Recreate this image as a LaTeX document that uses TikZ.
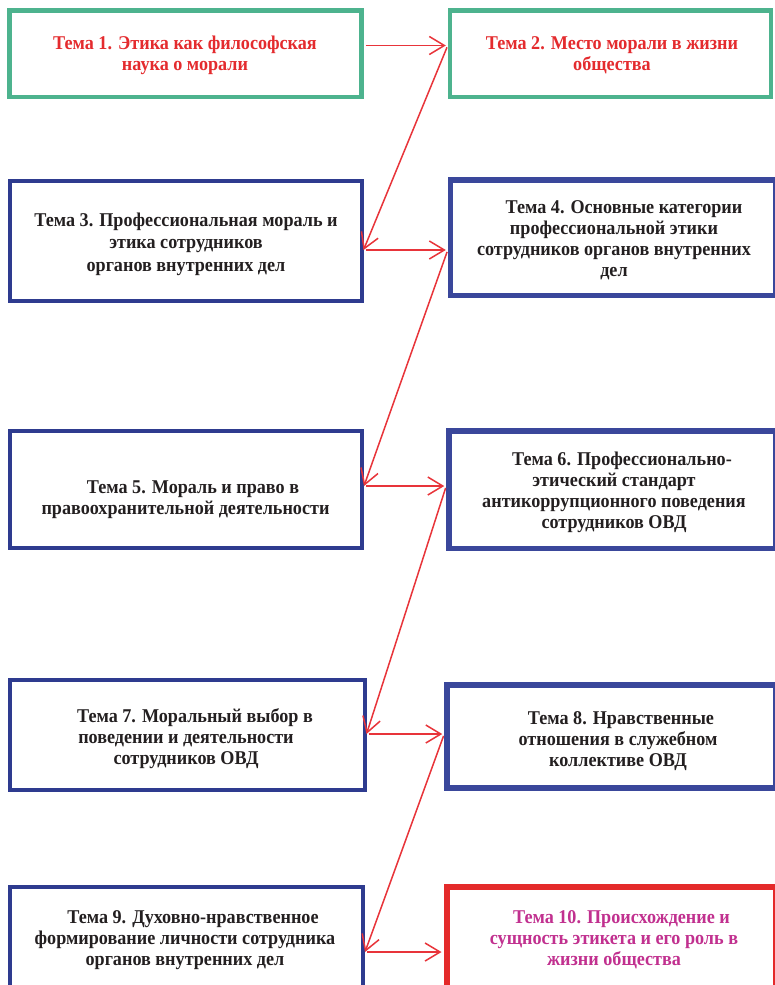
\documentclass[tikz,border=0pt]{standalone}
\usepackage{fontspec}
\setmainfont[FakeStretch=0.93]{Liberation Serif}
\usetikzlibrary{arrows.meta}
\definecolor{tgreen}{HTML}{4DB38E}
\definecolor{tblue}{HTML}{2E3B8F}
\definecolor{tbluel}{HTML}{3A479B}
\definecolor{tred}{HTML}{E42A2A}
\definecolor{arrred}{HTML}{E8343A}
\definecolor{ttred}{HTML}{E42B2E}
\definecolor{tmag}{HTML}{C1308F}
\definecolor{ttext}{HTML}{231F20}
\begin{document}
\begin{tikzpicture}[x=1pt,y=-1pt,
 box/.style={draw, rectangle, inner sep=0pt},
 greenbox/.style={box, draw=tgreen, line width=4.5pt},
 bluebox/.style={box, draw=tblue, line width=4pt},
 blueboxr/.style={box, draw=tbluel, line width=5.5pt},
 redbox/.style={box, draw=tred, line width=6pt},
 txt/.style={align=center, font=\fontsize{19.5}{21}\selectfont\bfseries, text=ttext, inner sep=0pt, anchor=base},
 arr/.style={draw=arrred, line width=1.5pt, -{Straight Barb[length=15pt,width=18pt]}},
]
\useasboundingbox[fill=white] (0,0) rectangle (775,985);
% boxes
\node[greenbox, minimum width=352pt, minimum height=86.5pt] (b1) at (185.5,53.75) {};
\node[greenbox, minimum width=321pt, minimum height=86.5pt] (b2) at (610.5,53.75) {};
\node[bluebox, minimum width=352pt, minimum height=120pt] (b3) at (185.5,241) {};
\node[blueboxr, minimum width=325.5pt, minimum height=115.5pt] (b4) at (613.25,237.75) {};
\node[bluebox, minimum width=352pt, minimum height=116.5pt] (b5) at (186,489.25) {};
\node[blueboxr, minimum width=327pt, minimum height=117.5pt] (b6) at (612.5,489.75) {};
\node[bluebox, minimum width=354.5pt, minimum height=110pt] (b7) at (187.25,735) {};
\node[blueboxr, minimum width=329pt, minimum height=103pt] (b8) at (611.5,736.5) {};
\node[bluebox, minimum width=353pt, minimum height=126pt] (b9) at (186.5,950) {};
\node[redbox, minimum width=329.5pt, minimum height=126pt] (b10) at (611.25,949.5) {};
% texts (coordinate = baseline of the last line)
\node[txt, text=ttred] (t1) at (185,70) {Тема 1. Этика как философская\\наука о морали};
\node[txt, text=ttred] (t2) at (612,70) {Тема 2. Место морали в жизни\\общества};
\node[txt] (t3) at (186,271) {Тема 3. Профессиональная мораль и\\[1.5pt]этика сотрудников\\[1.5pt]органов внутренних дел};
\node[txt] (t4) at (614,276) {\hspace*{20pt}Тема 4. Основные категории\\профессиональной этики\\сотрудников органов внутренних\\дел};
\node[txt] (t5) at (185.5,514) {\hspace*{15pt}Тема 5. Мораль и право в\\правоохранительной деятельности};
\node[txt] (t6) at (614,528) {\hspace*{16pt}Тема 6. Профессионально-\\этический стандарт\\антикоррупционного поведения\\сотрудников ОВД};
\node[txt] (t7) at (186,764) {\hspace*{18pt}Тема 7. Моральный выбор в\\поведении и деятельности\\сотрудников ОВД};
\node[txt] (t8) at (618,766) {\hspace*{6pt}Тема 8. Нравственные\\отношения в служебном\\коллективе ОВД};
\node[txt] (t9) at (185,965) {\hspace*{16pt}Тема 9. Духовно-нравственное\\формирование личности сотрудника\\органов внутренних дел};
\node[txt, text=tmag] (t10) at (614,965) {\hspace*{15pt}Тема 10. Происхождение и\\сущность этикета и его роль в\\жизни общества};
% arrow levels
\coordinate (y1) at (0,45.5);
\coordinate (y2) at (0,250);
\coordinate (y3) at (0,486);
\coordinate (y4) at (0,734);
\coordinate (y5) at (0,952);
% arrows
\draw[arr, shorten <=2pt, shorten >=2pt] (b1.east |- y1) -- (b2.west |- y1);
\draw[arr, shorten <=2pt] (b2.west |- y1) -- (b3.east |- y2);
\draw[arr, shorten <=2pt, shorten >=2pt] (b3.east |- y2) -- (b4.west |- y2);
\draw[arr, shorten <=2pt] (b4.west |- y2) -- (b5.east |- y3);
\draw[arr, shorten <=2pt, shorten >=2pt] (b5.east |- y3) -- (b6.west |- y3);
\draw[arr, shorten <=2pt] (b6.west |- y3) -- (b7.east |- y4);
\draw[arr, shorten <=2pt, shorten >=2pt] (b7.east |- y4) -- (b8.west |- y4);
\draw[arr, shorten <=2pt] (b8.west |- y4) -- (b9.east |- y5);
\draw[arr, shorten <=2pt, shorten >=2pt] (b9.east |- y5) -- (b10.west |- y5);
\end{tikzpicture}
\end{document}
